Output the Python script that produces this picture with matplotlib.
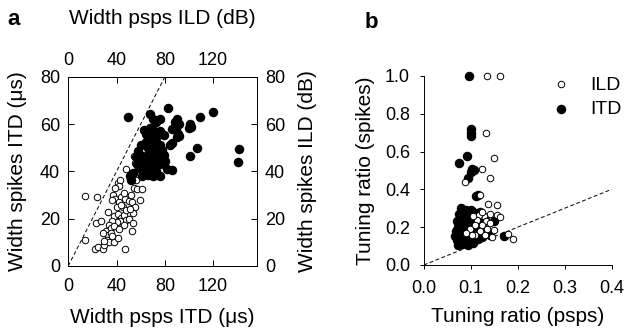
import numpy as np
import matplotlib.pyplot as plt

plt.rcParams['font.family'] = ['Liberation Sans', 'DejaVu Sans']

# panel a: widths (psps on x, spikes on y)
itd_a_x = [49.5, 67.5, 82.5, 119.5, 109, 76, 70.5, 73, 90, 88, 92, 101, 102, 100,
           67.5, 70, 64, 63, 76, 79, 85.5, 89, 91, 90, 92, 73, 68, 71, 84, 86, 76,
           72, 78, 66, 61, 71, 75, 79, 69, 62, 65, 72, 76, 81.5, 85.5, 59, 63, 66,
           70, 73, 76, 61, 54, 51, 52, 100.5, 107, 141.5, 140.5, 58, 60, 64, 66,
           69, 74, 80, 67, 56, 57]
itd_a_y = [63, 64.5, 67, 65, 63, 62, 62, 61, 62, 61, 60, 60, 59, 58.5,
           58.5, 57.5, 56, 57.5, 57, 55.5, 58, 57.5, 56, 54.5, 55, 54, 54.5, 53, 51, 52, 51,
           49, 49, 47, 46.5, 46, 45.5, 47, 44.5, 44, 43, 42.5, 43, 41, 40.5, 41.5, 40, 38.5,
           38, 40, 38, 38, 39.5, 38, 36.5, 46.5, 50, 49.5, 44, 48.5, 51, 52.5, 50,
           49.5, 48, 44.5, 41, 46, 43]

ild_a_x = [13.5, 24, 14, 23, 27, 22, 25, 29, 30, 47, 54.5, 55, 48, 41, 43, 42, 54.5,
           56, 57, 61, 37, 39, 44, 42, 36, 47, 50, 53, 55, 54, 59.5, 45, 40, 33, 38,
           41, 44, 46, 48, 50, 43, 40, 36, 34, 31, 35, 38, 46, 52.5, 54, 33, 35, 32,
           34, 30, 38, 41, 36, 29, 42, 48, 51, 52, 46, 39, 44]
ild_a_y = [29.5, 29, 11, 18, 19, 7, 8, 7, 9, 7, 46.5, 43.5, 41, 35, 36.5, 34, 33,
           36.5, 32.5, 32.5, 30, 28.5, 29, 27, 28, 28.5, 27.5, 27, 25, 22.5, 28, 25, 25, 23, 21,
           22, 20.5, 21.5, 19.5, 20, 19, 18.5, 19, 17.5, 15, 16, 17, 17.5, 15, 18, 13, 14, 11,
           10, 10.5, 10, 12, 12.5, 14, 15.5, 23.5, 24, 30, 31, 33, 26]

# panel b: tuning ratios
itd_b_x = [0.096, 0.1, 0.1, 0.1, 0.091, 0.074, 0.103, 0.1, 0.107, 0.095, 0.115, 0.112,
           0.17, 0.15, 0.125, 0.14,
           0.08, 0.085, 0.09, 0.095, 0.1, 0.105, 0.11, 0.075, 0.08, 0.09, 0.1, 0.115,
           0.07, 0.078, 0.085, 0.095, 0.105, 0.12, 0.072, 0.08, 0.09, 0.1, 0.11, 0.125,
           0.068, 0.078, 0.088, 0.098, 0.108, 0.118, 0.066, 0.075, 0.085, 0.095, 0.105,
           0.115, 0.07, 0.08, 0.09, 0.1, 0.072, 0.082, 0.095, 0.105, 0.13, 0.12]
itd_b_y = [1.0, 0.72, 0.70, 0.68, 0.577, 0.541, 0.51, 0.49, 0.50, 0.46, 0.37, 0.365,
           0.155, 0.235, 0.15, 0.16,
           0.3, 0.28, 0.29, 0.27, 0.29, 0.28, 0.27, 0.27, 0.25, 0.25, 0.25, 0.25,
           0.23, 0.22, 0.23, 0.22, 0.23, 0.22, 0.2, 0.2, 0.2, 0.2, 0.2, 0.2,
           0.18, 0.17, 0.18, 0.17, 0.18, 0.17, 0.155, 0.15, 0.15, 0.14, 0.15,
           0.14, 0.13, 0.125, 0.12, 0.13, 0.105, 0.11, 0.105, 0.115, 0.24, 0.28]

ild_b_x = [0.134, 0.162, 0.132, 0.15, 0.125, 0.14, 0.088, 0.12, 0.137, 0.155, 0.155,
           0.14, 0.128, 0.118, 0.162, 0.15, 0.145, 0.19, 0.18, 0.132, 0.125, 0.14,
           0.135, 0.12, 0.13, 0.11, 0.113, 0.108, 0.098, 0.102, 0.09, 0.105, 0.125]
ild_b_y = [1.0, 1.0, 0.70, 0.565, 0.505, 0.46, 0.437, 0.37, 0.32, 0.315, 0.265,
           0.27, 0.26, 0.265, 0.255, 0.185, 0.15, 0.14, 0.165, 0.23, 0.21, 0.22,
           0.19, 0.18, 0.16, 0.16, 0.24, 0.21, 0.19, 0.16, 0.17, 0.26, 0.28]

fig = plt.figure(figsize=(6.26, 3.30), dpi=100)

# ---- panel a ----
ax = fig.add_axes([0.109, 0.194, 0.301, 0.573])
ax.scatter(ild_a_x, ild_a_y, s=22, facecolors='white', edgecolors='k', linewidths=0.7, zorder=3)
ax.scatter(itd_a_x, itd_a_y, s=34, color='k', zorder=4)
ax.axline((0, 0), slope=1, color='k', lw=0.7, ls=(0, (4, 2.5)))
ax.set_xlim(0, 156)
ax.set_ylim(0, 80)
ax.set_xticks([0, 40, 80, 120])
ax.set_yticks([0, 20, 40, 60, 80])
ax.set_xlabel('Width psps ITD (μs)', fontsize=15, labelpad=9)
ax.set_ylabel('Width spikes ITD (μs)', fontsize=15, labelpad=9)

axt = ax.twiny()
axt.set_xlim(ax.get_xlim())
axt.set_xticks([0, 40, 80, 120])
axt.set_xlabel('Width psps ILD (dB)', fontsize=15, labelpad=20)

axr = ax.twinx()
axr.set_ylim(ax.get_ylim())
axr.set_yticks([0, 20, 40, 60, 80])
axr.set_ylabel('Width spikes ILD (dB)', fontsize=15, labelpad=9)

for a in (ax, axt, axr):
    a.tick_params(direction='in', length=4, width=0.7, labelsize=13, pad=6)
    for sp in a.spines.values():
        sp.set_linewidth(0.7)
ax.tick_params(axis='x', pad=9)

# ---- panel b ----
bx = fig.add_axes([0.677, 0.197, 0.300, 0.573])
bx.scatter(itd_b_x, itd_b_y, s=34, color='k', zorder=3, clip_on=False, label='ITD')
bx.scatter(ild_b_x, ild_b_y, s=22, facecolors='white', edgecolors='k', linewidths=0.7,
           zorder=4, clip_on=False, label='ILD')
bx.axline((0, 0), slope=1, color='k', lw=0.7, ls=(0, (4, 2.5)))
bx.set_xlim(0, 0.4)
bx.set_ylim(0, 1.0)
bx.set_xticks([0.0, 0.1, 0.2, 0.3, 0.4])
bx.set_yticks([0.0, 0.2, 0.4, 0.6, 0.8, 1.0])
bx.xaxis.set_major_formatter(plt.FormatStrFormatter('%.1f'))
bx.yaxis.set_major_formatter(plt.FormatStrFormatter('%.1f'))
bx.spines['top'].set_visible(False)
bx.spines['right'].set_visible(False)
for sp in bx.spines.values():
    sp.set_linewidth(0.7)
bx.tick_params(direction='out', length=3, width=0.7, labelsize=13, pad=7)
bx.tick_params(axis='x', pad=8)
bx.set_xlabel('Tuning ratio (psps)', fontsize=15, labelpad=7)
bx.set_ylabel('Tuning ratio (spikes)', fontsize=15, labelpad=7)

h, l = bx.get_legend_handles_labels()
bx.legend(h[::-1], l[::-1], loc='upper right', bbox_to_anchor=(1.055, 1.0), frameon=False,
          fontsize=14, handlelength=1.0, handletextpad=1.0, labelspacing=0.35,
          borderaxespad=0, borderpad=0)

fig.text(0.011, 0.924, 'a', fontsize=16, fontweight='bold')
fig.text(0.583, 0.915, 'b', fontsize=16, fontweight='bold')

fig.savefig('out.png', dpi=100)
